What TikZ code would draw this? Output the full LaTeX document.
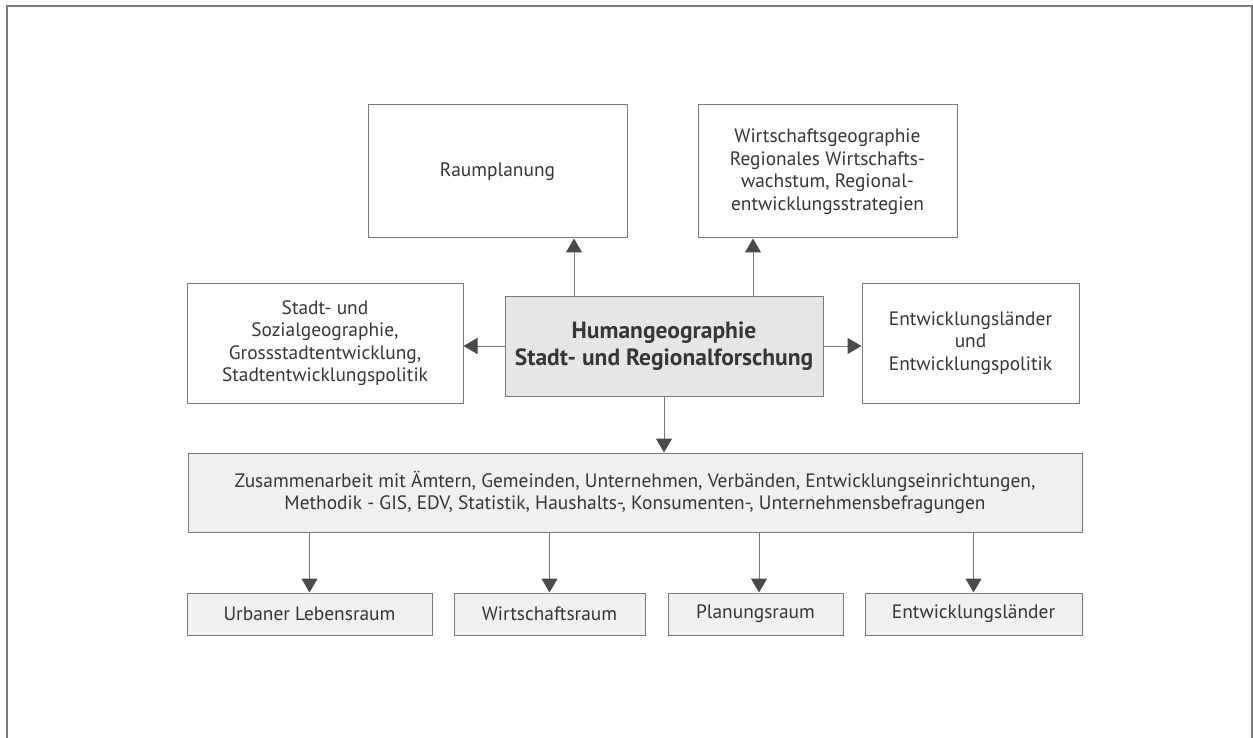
\documentclass[tikz,border=0pt]{standalone}
\usepackage{fontspec}
\setmainfont{PT Sans}
\usetikzlibrary{arrows.meta}
\definecolor{linegray}{HTML}{7A7A7A}
\definecolor{tipgray}{HTML}{4A4A4A}
\definecolor{txtgray}{HTML}{363636}
\definecolor{fillcen}{HTML}{E6E6E6}
\definecolor{fillbox}{HTML}{F0F0F0}
\tikzset{
  box/.style={draw=linegray, line width=1pt, align=center, text=txtgray,
    inner sep=0pt, font=\fontsize{19.4}{22.5}\selectfont},
  arr/.style={draw=linegray, line width=1pt,
    -{Triangle[width=16pt,length=14pt,color=tipgray]}},
}
\begin{document}
\begin{tikzpicture}[x=1pt,y=-1pt]
\useasboundingbox (0,0) rectangle (1253,738);
\begin{scope}
\clip (0,0) rectangle (1253,738);
\draw[linegray, line width=1.2pt] (7,760) -- (7,6) -- (1252,6) -- (1252,760);
\end{scope}

\node[box, minimum width=259, minimum height=133] (ram) at (497.5,171.5) {Raumplanung};
\node[box, minimum width=259, minimum height=133] (wig) at (827.5,171.5)
  {Wirtschaftsgeographie\\Regionales Wirtschafts-\\wachstum, Regional-\\entwicklungsstrategien};
\node[box, fill=fillcen, minimum width=318, minimum height=100,
  font=\fontsize{23.5}{27}\selectfont\bfseries] (cen) at (664,346)
  {Humangeographie\\Stadt- und Regionalforschung};
\node[box, minimum width=276, minimum height=120] (lft) at (325,343)
  {Stadt- und\\Sozialgeographie,\\Grossstadtentwicklung,\\Stadtentwicklungspolitik};
\node[box, minimum width=217, minimum height=120] (rgt) at (970.5,343)
  {Entwicklungsländer\\und\\Entwicklungspolitik};
\node[box, fill=fillbox, minimum width=894, minimum height=79] (zus) at (635,492.5)
  {Zusammenarbeit mit Ämtern, Gemeinden, Unternehmen, Verbänden, Entwicklungseinrichtungen,\\Methodik - GIS, EDV, Statistik, Haushalts-, Konsumenten-, Unternehmensbefragungen};
\node[box, fill=fillbox, minimum width=245, minimum height=42] (b1) at (309.5,614) {Urbaner Lebensraum};
\node[box, fill=fillbox, minimum width=191, minimum height=42] (b2) at (549.5,614) {Wirtschaftsraum};
\node[box, fill=fillbox, minimum width=175, minimum height=42] (b3) at (755.5,614) {Planungsraum};
\node[box, fill=fillbox, minimum width=217, minimum height=42] (b4) at (973.5,614) {Entwicklungsländer};

\coordinate (xr) at (574,0);
\coordinate (xw) at (753,0);
\coordinate (x3) at (759,0);
\draw[arr] (cen.north -| xr) -- (ram.south -| xr);
\draw[arr] (cen.north -| xw) -- (wig.south -| xw);
\draw[arr] (cen.west) -- (cen.west -| lft.east);
\draw[arr] (cen.east) -- (cen.east -| rgt.west);
\draw[arr] (cen.south) -- (cen.south |- zus.north);
\draw[arr] (zus.south -| b1.north) -- (b1.north);
\draw[arr] (zus.south -| b2.north) -- (b2.north);
\draw[arr] (zus.south -| x3) -- (b3.north -| x3);
\draw[arr] (zus.south -| b4.north) -- (b4.north);
\end{tikzpicture}
\end{document}
